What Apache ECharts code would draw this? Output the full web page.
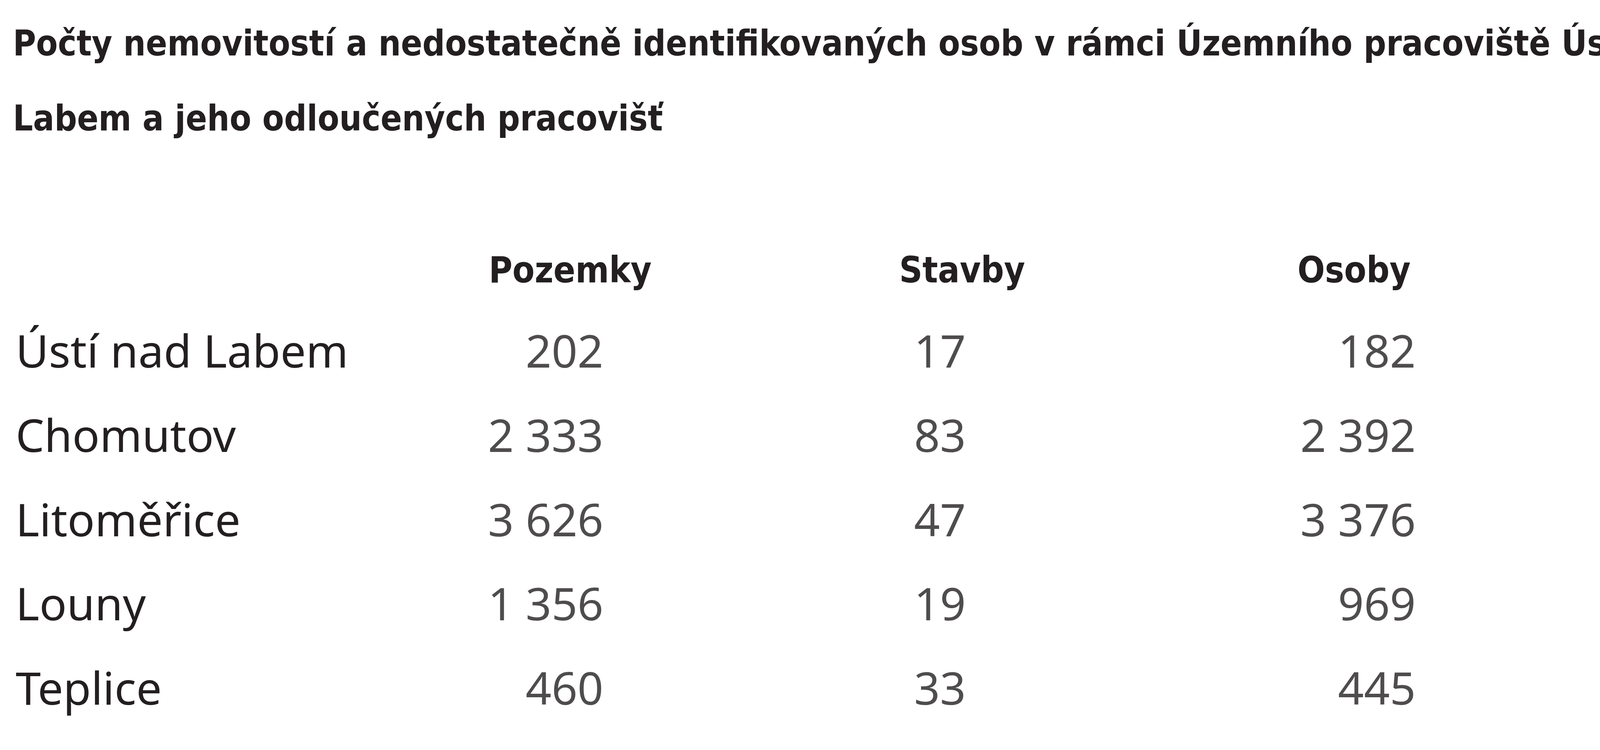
<!DOCTYPE html>
<html>
<head>
    <meta charset="utf-8">
    <script src="https://cdn.jsdelivr.net/npm/echarts@6/dist/echarts.min.js"></script>
    <style>html,body{margin:0;background:#fff}</style>
</head>
<body>
    <div id="chart" style="width:4427px;height:1920px;"></div>
    <script>
        var titleText = 'Počty nemovitostí a nedostatečně identifikovaných osob v rámci Územního pracoviště Ústí nad\nLabem a jeho odloučených pracovišť';
        var places = ['Ústí nad Labem', 'Chomutov', 'Litoměřice', 'Louny', 'Teplice'];
        var columns = ['Pozemky', 'Stavby', 'Osoby'];
        var pozemky = [202, 2333, 3626, 1356, 460];
        var stavby = [17, 83, 47, 19, 33];
        var osoby = [182, 2392, 3376, 969, 445];

        function fmt(v) {
            return String(v).replace(/\B(?=(\d{3})+(?!\d))/g, ' ');
        }

        var body = '"Noto Sans", "Open Sans", sans-serif';
        var colStyle = [
            { data: pozemky, align: 'right', offset: [85, 0] },
            { data: stavby, align: 'left', offset: [-123, 0] },
            { data: osoby, align: 'right', offset: [158, 0] }
        ];

        var chart = echarts.init(document.getElementById('chart'));
        chart.setOption({
            backgroundColor: '#fff',
            title: {
                text: titleText,
                left: 28,
                top: 18,
                textStyle: {
                    fontFamily: '"DejaVu Sans Condensed", "DejaVu Sans", sans-serif',
                    fontWeight: 'bold',
                    fontSize: 90,
                    lineHeight: 192,
                    color: '#231f20'
                }
            },
            grid: { left: 958, right: 459, top: 800, bottom: 41 },
            xAxis: {
                type: 'category',
                position: 'top',
                data: columns,
                axisLine: { show: false },
                axisTick: { show: false },
                splitLine: { show: false },
                axisLabel: {
                    margin: 55,
                    fontFamily: '"DejaVu Sans Condensed", sans-serif',
                    fontWeight: 'bold',
                    fontSize: 92,
                    color: '#231f20'
                }
            },
            yAxis: {
                type: 'category',
                inverse: true,
                data: places,
                axisLine: { show: false },
                axisTick: { show: false },
                splitLine: { show: false },
                axisLabel: {
                    align: 'left',
                    margin: 918,
                    fontFamily: body,
                    fontSize: 116,
                    color: '#231f20'
                }
            },
            series: colStyle.map(function (c, ci) {
                return {
                    type: 'scatter',
                    symbolSize: 0,
                    silent: true,
                    data: c.data.map(function (v, ri) { return [ci, ri, v]; }),
                    label: {
                        show: true,
                        position: 'inside',
                        align: c.align,
                        offset: c.offset,
                        fontFamily: body,
                        fontSize: 116,
                        color: '#231f20',
                        formatter: function (p) { return fmt(p.value[2]); }
                    }
                };
            })
        });
    </script>
</body>
</html>
